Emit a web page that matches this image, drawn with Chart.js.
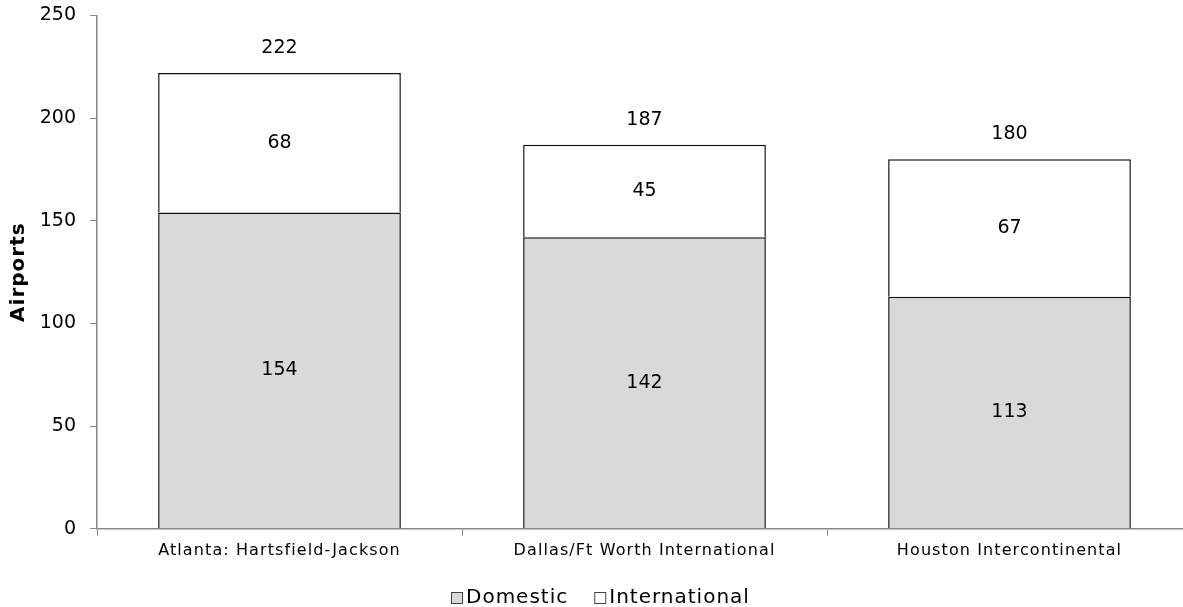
<!DOCTYPE html>
<html>
<head>
<meta charset="utf-8">
<script src="https://cdn.jsdelivr.net/npm/chart.js@4/dist/chart.umd.min.js"></script>
<style>
  html, body { margin: 0; padding: 0; background: #fff; overflow: hidden; }
  #wrap { position: relative; width: 1200px; height: 607px; overflow: hidden; }
  #c { position: absolute; left: 0; top: -10px; }
</style>
</head>
<body>
<div id="wrap"><canvas id="c" width="1200" height="617"></canvas></div>
<script>
const categories = ["Atlanta: Hartsfield-Jackson", "Dallas/Ft Worth International", "Houston Intercontinental"];
const seriesNames = ["Domestic", "International"];
const domestic = [154, 142, 113];
const international = [68, 45, 67];
const totals = [222, 187, 180];
const yTicks = [0, 50, 100, 150, 200, 250];

const FONT = "'DejaVu Sans', sans-serif";
const FILLS = ['#d9d9d9', '#ffffff'];
const SHIFT = 10; // canvas is drawn 10px higher than the page

function withSpacing(scale, method, spacing) {
  const orig = scale[method].bind(scale);
  scale[method] = function (...args) {
    const ctx = this.ctx;
    ctx.save();
    ctx.letterSpacing = spacing;
    orig(...args);
    ctx.restore();
  };
}

const labelPlugin = {
  id: 'labels',
  afterLayout(chart) {
    const sx = chart.scales.x, sy = chart.scales.y;
    if (sx && !sx._ls) { withSpacing(sx, 'drawLabels', '1.1px'); sx._ls = true; }
    if (sy && !sy._ls) { withSpacing(sy, 'drawTitle', '1px'); sy._ls = true; }
  },
  afterDatasetsDraw(chart) {
    const ctx = chart.ctx;
    ctx.save();
    ctx.fillStyle = '#000';
    ctx.font = '19px ' + FONT;
    ctx.textAlign = 'center';
    ctx.textBaseline = 'middle';
    chart.data.datasets.forEach((ds, di) => {
      const meta = chart.getDatasetMeta(di);
      meta.data.forEach((bar, i) => {
        ctx.fillText(String(ds.data[i]), bar.x, (bar.y + bar.base) / 2);
      });
    });
    const top = chart.getDatasetMeta(1);
    top.data.forEach((bar, i) => {
      ctx.fillText(String(totals[i]), bar.x, bar.y - 25);
    });
    ctx.restore();
  },
  afterDraw(chart) {
    const ctx = chart.ctx;
    ctx.save();
    ctx.font = '20px ' + FONT;
    ctx.letterSpacing = '1px';
    ctx.textBaseline = 'middle';
    ctx.textAlign = 'left';
    const box = 11, gap = 4, itemGap = 26;
    const widths = seriesNames.map(n => ctx.measureText(n).width);
    let total = 0;
    widths.forEach((w, i) => { total += box + gap + w + (i < widths.length - 1 ? itemGap : 0); });
    let x = Math.round(600 - total / 2);
    const cy = 597 + SHIFT;
    seriesNames.forEach((n, i) => {
      const by = Math.round(cy - box / 2);
      ctx.fillStyle = FILLS[i];
      ctx.fillRect(x + 0.5, by + 0.5, box, box);
      ctx.strokeStyle = '#444';
      ctx.lineWidth = 1;
      ctx.strokeRect(x + 0.5, by + 0.5, box, box);
      ctx.fillStyle = '#000';
      ctx.fillText(n, x + box + gap, cy + 1);
      x += box + gap + widths[i] + itemGap;
    });
    ctx.restore();
  }
};

new Chart(document.getElementById('c'), {
  type: 'bar',
  data: {
    labels: categories,
    datasets: [
      { label: seriesNames[0], data: domestic, backgroundColor: FILLS[0], borderColor: '#111', borderWidth: 1.5, categoryPercentage: 0.665, barPercentage: 1 },
      { label: seriesNames[1], data: international, backgroundColor: FILLS[1], borderColor: '#111', borderWidth: 1.5, categoryPercentage: 0.665, barPercentage: 1 }
    ]
  },
  options: {
    responsive: false,
    animation: false,
    layout: { padding: { top: 0, right: 8, left: 0, bottom: 42 } },
    plugins: {
      tooltip: { enabled: false },
      legend: { display: false }
    },
    scales: {
      x: {
        stacked: true,
        grid: { display: true, drawOnChartArea: false, drawTicks: true, tickLength: 7, color: '#888', offset: true },
        border: { color: '#888', width: 1.5 },
        ticks: { font: { family: FONT, size: 16 }, color: '#000', padding: 5, maxRotation: 0 }
      },
      y: {
        stacked: true,
        min: 0, max: 250,
        afterBuildTicks(scale) { scale.ticks = yTicks.map(v => ({ value: v })); },
        afterFit(scale) { scale.width = 97; },
        grid: { display: true, drawOnChartArea: false, drawTicks: true, tickLength: 7, color: '#888' },
        border: { color: '#888', width: 1.5 },
        ticks: { font: { family: FONT, size: 19 }, color: '#000', padding: 14 },
        title: { display: true, text: 'Airports', font: { family: FONT, size: 20, weight: 'bold' }, color: '#000', padding: { top: 7, bottom: 0 } }
      }
    }
  },
  plugins: [labelPlugin]
});
</script>
</body>
</html>
